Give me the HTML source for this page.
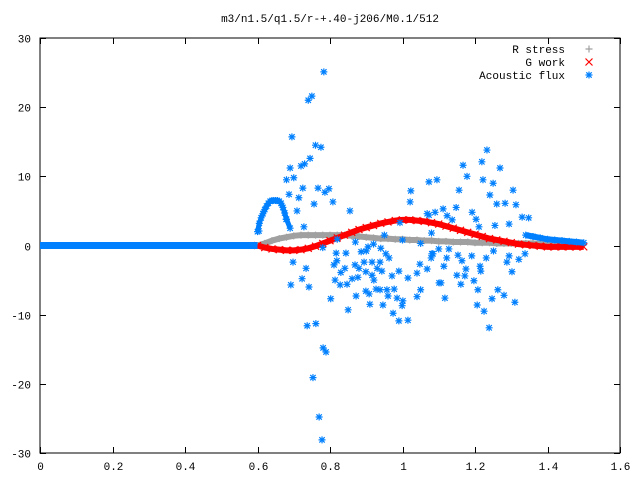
<!DOCTYPE html>
<html><head><meta charset="utf-8"><style>
html,body{margin:0;padding:0;background:#fff;}
svg{display:block;font-family:"Liberation Mono",monospace;}
</style></head><body>
<svg id="chart" width="640" height="480" xmlns="http://www.w3.org/2000/svg">
<rect x="0" y="0" width="640" height="480" fill="#fff"/>
<text x="330" y="22" font-size="11" text-anchor="middle">m3/n1.5/q1.5/r-+.40-j206/M0.1/512</text>
<g id="axes"></g>
<g id="series"></g>
<g id="legend"></g>
</svg>
<script>
const xTicks=[0,0.2,0.4,0.6,0.8,1,1.2,1.4,1.6];
const xTickLabels=["0","0.2","0.4","0.6","0.8","1","1.2","1.4","1.6"];
const yTicks=[-30,-20,-10,0,10,20,30];
const yTickLabels=["-30","-20","-10","0","10","20","30"];
const curveStart=0.6, curveStep=0.02;
const rStress=[0,0.3,0.7,1.0,1.2,1.4,1.5,1.5,1.5,1.5,1.5,1.5,1.5,1.4,1.3,1.2,1.1,1.0,1.0,0.9,0.9,0.8,0.8,0.7,0.7,0.6,0.6,0.5,0.5,0.5,0.4,0.4,0.4,0.3,0.3,0.3,0.3,0.3,0.3,0.2,0.2,0.2,0.2,0.2,0.2,0.2];
const gWork=[0,-0.3,-0.5,-0.6,-0.7,-0.7,-0.6,-0.4,-0.1,0.3,0.7,1.1,1.5,1.9,2.3,2.6,2.9,3.2,3.4,3.6,3.7,3.7,3.6,3.5,3.3,3.1,2.8,2.5,2.2,1.9,1.6,1.3,1.0,0.8,0.6,0.4,0.2,0.1,0,-0.1,-0.2,-0.2,-0.2,-0.2,-0.2,-0.2];
const fluxFlatX=[0,0.6];
const fluxFlatY=[0,0];
const fluxHumpX=[0.600,0.605,0.610,0.615,0.620,0.625,0.630,0.635,0.640,0.645,0.650,0.655,0.660,0.665,0.670,0.675,0.680,0.690];
const fluxHumpY=[2.0,3.2,4.0,4.6,5.2,5.7,6.1,6.4,6.5,6.5,6.5,6.5,6.4,6.1,5.5,4.7,3.8,2.5];
const fluxTailX=[1.34,1.36,1.38,1.40,1.42,1.44,1.46,1.48,1.50];
const fluxTailY=[1.5,1.3,1.1,0.9,0.8,0.7,0.6,0.5,0.4];
const fluxScatterX=[0.783,0.75,0.74,0.695,0.76,0.775,0.745,0.73,0.72,0.69,0.70,0.68,0.725,0.767,0.797,0.786,0.714,0.687,0.808,0.756,0.855,0.709,0.679,0.728,0.604,1.023,1.021,1.073,1.095,1.073,
0.698,0.734,0.692,0.723,0.742,0.802,0.85,0.737,0.761,0.781,0.789,0.753,0.77,0.778,0.817,0.844,0.819,0.811,0.83,0.841,0.869,0.88,0.894,0.886,0.905,0.916,0.938,0.93,0.943,0.916,0.899,0.877,0.861,0.814,0.828,0.847,0.921,0.954,0.963,0.971,0.99,1.015,1.04,1.048,1.068,1.05,1.04,0.977,0.957,0.938,0.927,0.96,0.899,0.908,0.872,0.91,0.946,0.985,1.001,0.999,0.974,0.99,1.015,1.084,1.101,
1.233,1.167,1.219,1.178,1.269,1.156,1.222,1.25,1.305,1.241,1.26,1.283,1.313,1.148,1.192,1.112,1.09,1.33,1.348,1.203,1.211,1.255,1.294,1.137,1.123,1.068,
1.128,1.153,1.122,1.081,1.079,1.191,1.164,1.231,1.251,1.294,1.288,1.321,1.338,1.114,1.175,1.214,1.216,1.15,1.172,1.302,1.106,1.161,1.197,1.208,1.263,1.28,1.117,1.247,1.31,1.206,1.225,1.239,
0.78,0.82,0.87,0.92,0.95,1.0,1.05,1.08,1.1,0.9,0.94,0.993];
const fluxScatterY=[25.1,21.6,21.0,15.7,14.5,14.2,12.6,11.8,11.5,11.2,9.8,9.5,8.3,8.3,8.2,7.7,6.9,7.4,6.3,6.0,5.0,5.0,3.8,2.7,2.1,7.9,6.3,9.2,9.5,4.4,
-2.4,-3.3,-5.7,-4.8,-6.0,-7.7,-9.3,-11.6,-11.3,-14.8,-15.4,-19.1,-24.8,-28.1,-1.1,-1.1,-2.2,-2.8,-3.9,-3.3,-2.8,-3.3,-2.4,-0.9,-0.2,-2.4,-2.4,-3.3,-3.7,-4.3,-3.8,-4.6,-4.8,-5.0,-5.7,-5.6,-5.0,-1.2,-1.8,-4.4,-3.7,-4.7,-4.0,-2.7,-3.4,-6.4,-7.4,-6.3,-6.4,-6.4,-6.3,-7.3,-6.6,-7.0,-7.3,-8.5,-8.6,-7.6,-8.0,-8.7,-9.8,-10.9,-10.8,-1.2,-5.4,
13.8,11.6,12.1,10.0,11.2,8.0,9.5,9.0,8.0,7.3,6.0,6.1,5.9,5.5,4.8,5.3,4.8,4.1,4.0,3.8,2.7,2.9,3.1,3.7,4.3,4.6,
-0.5,-1.4,-1.8,-1.2,-1.8,-1.5,-2.2,-1.8,-0.8,-1.5,-2.4,-2.0,-1.2,-3.0,-3.4,-3.0,-3.7,-4.3,-4.4,-3.8,-5.4,-5.6,-5.1,-6.4,-6.4,-7.2,-7.6,-7.7,-8.2,-8.6,-9.5,-11.9,
-0.3,0.9,0.5,0.2,1.5,0.8,0.3,1.8,-0.5,-0.8,-0.4,3.3];

const NS="http://www.w3.org/2000/svg";
const L=40,R=620,T=38,B=453;
const xMin=0,xMax=1.6,yMin=-30,yMax=30;
function sx(v){return L+(v-xMin)/(xMax-xMin)*(R-L);}
function sy(v){return B-(v-yMin)/(yMax-yMin)*(B-T);}
function mk(tag,attrs,parent){const e=document.createElementNS(NS,tag);for(const k in attrs)e.setAttribute(k,attrs[k]);parent.appendChild(e);return e;}
const axes=document.getElementById('axes');
const ser=document.getElementById('series');
const leg=document.getElementById('legend');

const frame=mk('rect',{x:L,y:T,width:R-L,height:B-T,fill:'none',stroke:'#000','stroke-width':1},axes);


xTicks.forEach((v,i)=>{
  const x=Math.round(sx(v))+0.5;
  const t1=mk('line',{x1:x,y1:B,x2:x,y2:B-6,stroke:'#000'},axes);
  
  
  const t2=mk('line',{x1:x,y1:T,x2:x,y2:T+6,stroke:'#000'},axes);
  
  
  const tx=mk('text',{x:x,y:470,'font-size':11,'text-anchor':'middle'},axes);
  tx.textContent=xTickLabels[i];
  
  
});
yTicks.forEach((v,i)=>{
  const y=Math.round(sy(v))+0.5;
  const t1=mk('line',{x1:L,y1:y,x2:L+6,y2:y,stroke:'#000'},axes);
  
  
  const t2=mk('line',{x1:R,y1:y,x2:R-6,y2:y,stroke:'#000'},axes);
  
  
  const tx=mk('text',{x:31,y:y+4,'font-size':11,'text-anchor':'end'},axes);
  tx.textContent=yTickLabels[i];
  
  
});

function marker(kind,x,y,color,parent){
  const s=3.5;let d;
  if(kind==='plus')d=`M${x-s},${y}H${x+s}M${x},${y-s}V${y+s}`;
  else if(kind==='cross')d=`M${x-s},${y-s}L${x+s},${y+s}M${x-s},${y+s}L${x+s},${y-s}`;
  else d=`M${x-s},${y}H${x+s}M${x},${y-s}V${y+s}M${x-s+0.8},${y-s+0.8}L${x+s-0.8},${y+s-0.8}M${x-s+0.8},${y+s-0.8}L${x+s-0.8},${y-s+0.8}`;
  return mk('path',{d:d,stroke:color,'stroke-width':1.2,fill:'none'},parent);
}
const GRAY='#a0a0a0',RED='#ff0000',BLUE='#0080ff';

// R stress
const gR=mk('g',{},ser);


const rPts=rStress.map((v,i)=>sx(curveStart+i*curveStep)+','+sy(v)).join(' ');
mk('polyline',{points:rPts,fill:'none',stroke:GRAY,'stroke-width':6},gR);
rStress.forEach((v,i)=>{const m=marker('plus',sx(curveStart+i*curveStep),sy(v),GRAY,gR);
  
  });
// G work
const gG=mk('g',{},ser);


const gPts=gWork.map((v,i)=>sx(curveStart+i*curveStep)+','+sy(v)).join(' ');
mk('polyline',{points:gPts,fill:'none',stroke:RED,'stroke-width':6},gG);
gWork.forEach((v,i)=>{const m=marker('cross',sx(curveStart+i*curveStep),sy(v),RED,gG);
  
  });
// Acoustic flux
const gF=mk('g',{},ser);


const flat=mk('polyline',{points:fluxFlatX.map((v,i)=>sx(v)+','+sy(fluxFlatY[i])).join(' '),fill:'none',stroke:BLUE,'stroke-width':7},gF);


mk('polyline',{points:fluxHumpX.map((v,i)=>sx(v)+','+sy(fluxHumpY[i])).join(' '),fill:'none',stroke:BLUE,'stroke-width':5},gF);
mk('polyline',{points:fluxTailX.map((v,i)=>sx(v)+','+sy(fluxTailY[i])).join(' '),fill:'none',stroke:BLUE,'stroke-width':6},gF);
function drawStars(xs,ys){xs.forEach((v,i)=>{const m=marker('star',sx(v),sy(ys[i]),BLUE,gF);
  
  });}
drawStars(fluxHumpX,fluxHumpY);
drawStars(fluxTailX,fluxTailY);
drawStars(fluxScatterX,fluxScatterY);

// legend
const legendItems=[["R stress","plus",GRAY,49],["G work","cross",RED,62],["Acoustic flux","star",BLUE,75]];
legendItems.forEach(it=>{
  const g=mk('g',{},leg);
  
  
  const t=mk('text',{x:565,y:it[3]+4,'font-size':11,'text-anchor':'end'},g);
  t.textContent=it[0];
  marker(it[1],589,it[3],it[2],g);
});
</script>
</body></html>
